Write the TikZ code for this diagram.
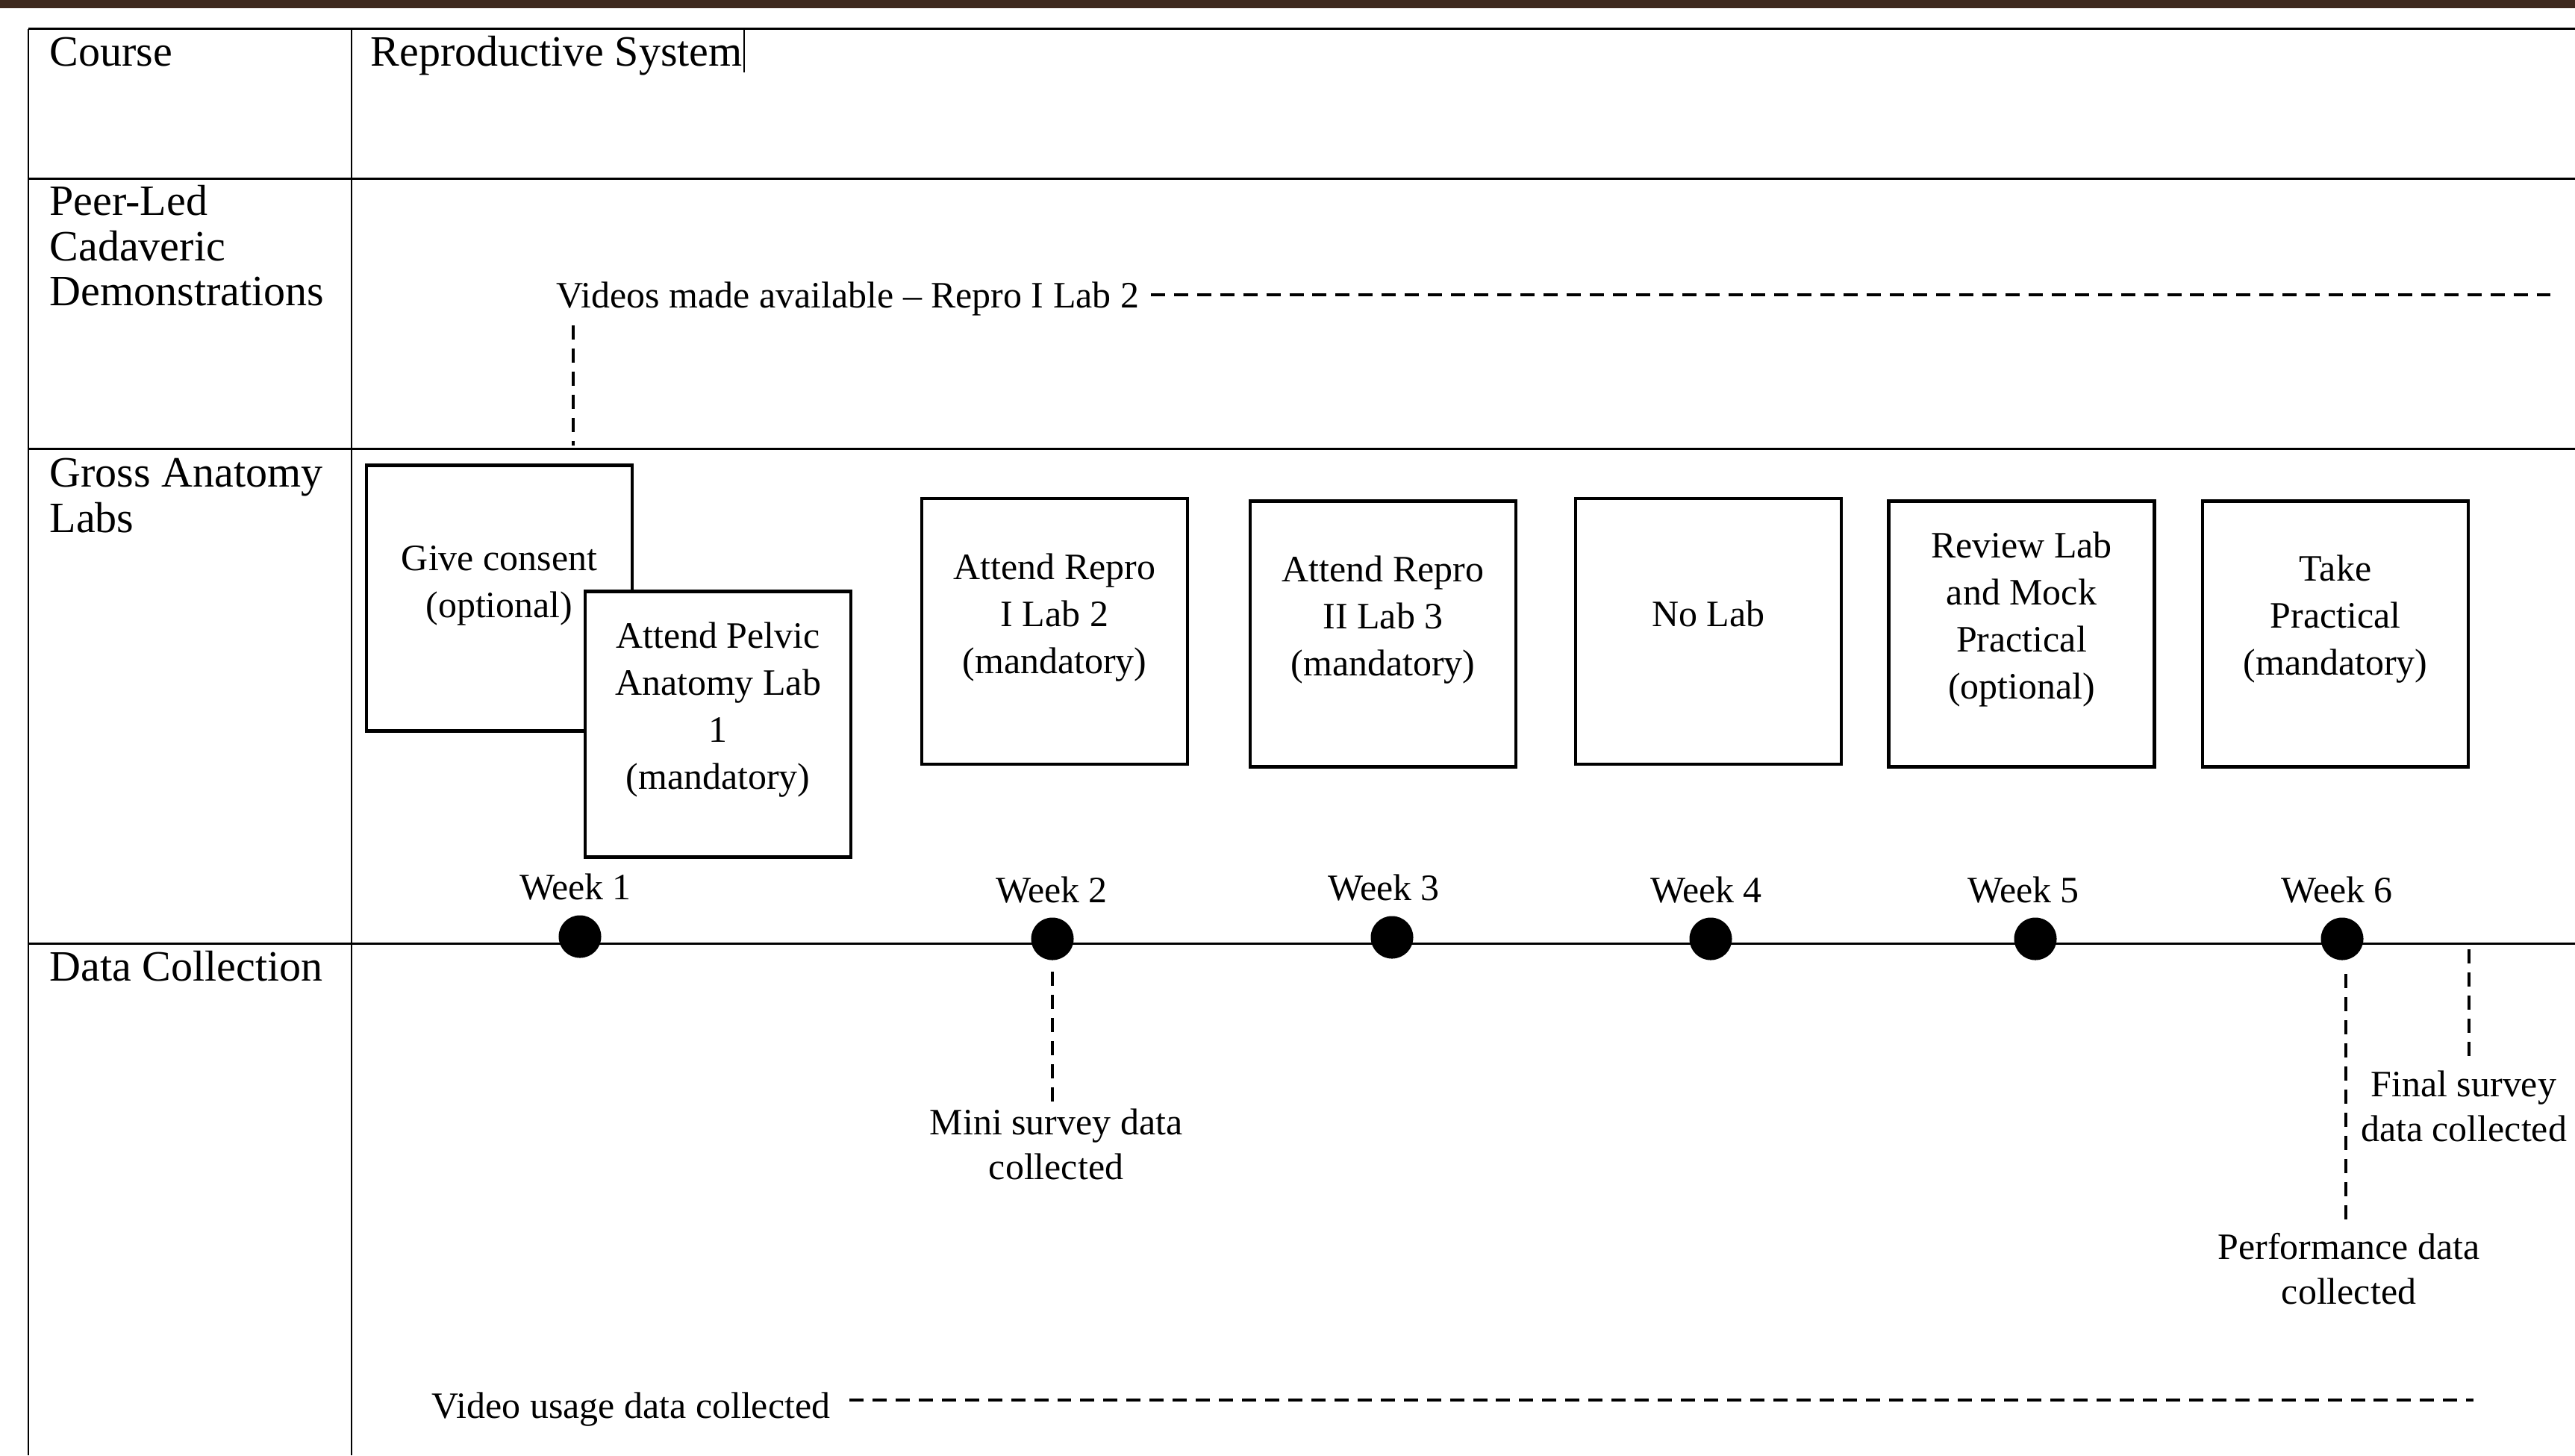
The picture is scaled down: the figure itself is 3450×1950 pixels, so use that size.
\documentclass[tikz,border=0pt]{standalone}
\usepackage{fontspec}
\setmainfont{Liberation Serif}
\usetikzlibrary{calc}
\definecolor{topbar}{RGB}{62,41,30}
\begin{document}
\begin{tikzpicture}[x=0.01cm,y=-0.01cm,
  tline/.style={line width=0.85pt},
  labbox/.style={draw, line width=1.28pt, fill=white, minimum width=3.56cm, minimum height=3.56cm, inner sep=0pt},
  hdr/.style={inner sep=0pt, font=\fontsize{16.5}{17.2}\selectfont},
  body/.style={inner sep=0pt, font=\fontsize{14.2}{17.3}\selectfont},
  boxtxt/.style={align=center, inner sep=0pt, font=\fontsize{14.2}{17.9}\selectfont},
  datatxt/.style={align=center, inner sep=0pt, font=\fontsize{14.2}{17.07}\selectfont},
  wk/.style={body, anchor=base},
  dot/.style={circle, fill=black, minimum size=0.57cm, inner sep=0pt},
  dashline/.style={line width=1.28pt, dash pattern=on 5.4pt off 3.4pt}
]
\useasboundingbox (0,0) rectangle (3450,1950);
% top bar
\fill[topbar] (0,0) rectangle (3450,11);
% table
\draw[tline] (38,38.6) -- (3450,38.6);
\draw[tline] (38,239) -- (3450,239);
\draw[tline] (38,601) -- (3450,601);
\draw[tline] (38,1264) -- (3450,1264);
\draw[tline] (38,38.6) -- (38,1950);
\draw[tline] (471,38.6) -- (471,1950);
% row labels
\node[hdr, anchor=base west] (course) at (66,88) {Course};
\node[hdr, anchor=base west] (repro) at (496,88) {Reproductive System};
\draw[line width=0.5pt] (997,39) -- (997,97);
\node[hdr, anchor=north west, align=left] (peer) at (66,245.7) {\strut Peer-Led\\\strut Cadaveric\\\strut Demonstrations};
\node[hdr, anchor=north west, align=left] (gross) at (66,609.7) {\strut Gross Anatomy\\\strut Labs};
\node[hdr, anchor=base west] (datac) at (66,1314) {Data Collection};
% videos
\node[body, anchor=base west] (vid) at (745,412) {Videos made available -- Repro I Lab 2};
\coordinate (vidend) at (3417,395);
\draw[dashline] ($(vid.east |- vidend)+(15,0)$) -- (vidend);
\coordinate (vtop) at (768,436);
\coordinate (vbot) at (768,597);
\draw[dashline] (vtop) -- (vbot);
% lab boxes
\node[labbox] (b1) at (669,801.5) {};
\node[boxtxt] (t1) at (669,783) {\strut Give consent\\\strut (optional)};
\node[labbox] (b2) at (962,970.5) {};
\node[boxtxt] (t2) at (962,950) {\strut Attend Pelvic\\\strut Anatomy Lab\\\strut 1\\\strut (mandatory)};
\node[labbox] (b3) at (1413,846) {};
\node[boxtxt] (t3) at (1413,827) {\strut Attend Repro\\\strut I Lab 2\\\strut (mandatory)};
\node[labbox] (b4) at (1853,849.5) {};
\node[boxtxt] (t4) at (1853,830) {\strut Attend Repro\\\strut II Lab 3\\\strut (mandatory)};
\node[labbox] (b5) at (2289,846) {};
\node[boxtxt] (t5) at (2289,827) {\strut No Lab};
\node[labbox] (b6) at (2708.5,849.5) {};
\node[boxtxt] (t6) at (2708.5,829) {\strut Review Lab\\\strut and Mock\\\strut Practical\\\strut (optional)};
\node[labbox] (b7) at (3129,849.5) {};
\node[boxtxt] (t7) at (3129,829) {\strut Take\\\strut Practical\\\strut (mandatory)};
% weeks
\node[wk] (w1) at (771,1205) {Week 1};
\node[wk] (w2) at (1409,1209) {Week 2};
\node[wk] (w3) at (1854,1206) {Week 3};
\node[wk] (w4) at (2286,1209) {Week 4};
\node[wk] (w5) at (2711,1209) {Week 5};
\node[wk] (w6) at (3131,1209) {Week 6};
\node[dot] (d1) at (777,1255) {};
\node[dot] (d2) at (1410,1258) {};
\node[dot] (d3) at (1865,1256) {};
\node[dot] (d4) at (2292,1258) {};
\node[dot] (d5) at (2727,1258) {};
\node[dot] (d6) at (3138,1258) {};
% data collection
\node[datatxt] (mini) at (1415,1538) {\strut Mini survey data\\\strut collected};
\draw[dashline, shorten <=0.15cm] (d2.south) -- (d2.south |- mini.north);
\node[datatxt] (perf) at (3147,1705) {\strut Performance data\\\strut collected};
\coordinate (pstart) at ($(d6.south)+(5,0)$);
\draw[dashline, shorten <=0.18cm, shorten >=0.09cm] (pstart) -- (pstart |- perf.north);
\node[datatxt] (final) at (3301,1487) {\strut Final survey\\\strut data collected};
\coordinate (fs) at (3308,1272);
\draw[dashline] (fs) -- (fs |- final.north);
\node[body, anchor=base west] (vu) at (578,1900) {Video usage data collected};
\coordinate (vuend) at (3314,1876);
\draw[dashline] ($(vu.east |- vuend)+(25,0)$) -- (vuend);
\end{tikzpicture}
\end{document}
